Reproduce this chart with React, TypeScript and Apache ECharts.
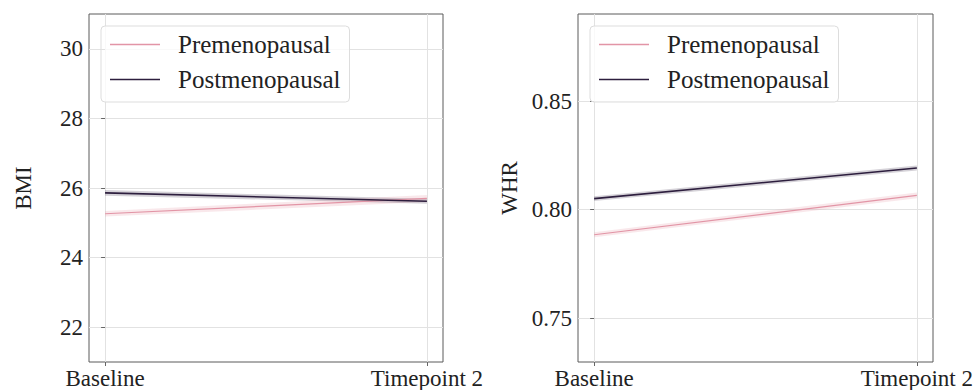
import React, { useEffect, useRef } from "react";
import * as echarts from "echarts";

const categories = ["Baseline", "Timepoint 2"];
const xPositions = [0, 1];

const bmiTicks = [22, 24, 26, 28, 30];
const whrTicks = [0.75, 0.8, 0.85];

const bmiPre = [25.26, 25.7];
const bmiPreLo = [25.18, 25.6];
const bmiPreHi = [25.34, 25.8];
const bmiPost = [25.86, 25.62];
const bmiPostLo = [25.78, 25.55];
const bmiPostHi = [25.94, 25.69];

const whrPre = [0.7885, 0.8066];
const whrPreLo = [0.7873, 0.8053];
const whrPreHi = [0.7897, 0.8079];
const whrPost = [0.8051, 0.8192];
const whrPostLo = [0.804, 0.8181];
const whrPostHi = [0.8062, 0.8203];

const PRE = "#e295a6";
const POST = "#2d1e3e";
const FONT = "Liberation Serif";

function pts(vals: number[]) {
  return vals.map((v, i) => [xPositions[i], v]);
}

function bandSeries(idx: number, key: string, lo: number[], hi: number[], color: string) {
  const data = xPositions.map((x, i) => [x, lo[i], hi[i]]);
  return {
    name: key + "-band",
    type: "custom",
    xAxisIndex: idx,
    yAxisIndex: idx,
    data,
    silent: true,
    z: 2,
    encode: { x: 0, y: [1, 2] },
    renderItem: (params: any, api: any) => {
      if (params.dataIndex !== 0) return null;
      const upper = data.map((d) => api.coord([d[0], d[2]]));
      const lower = data.map((d) => api.coord([d[0], d[1]])).reverse();
      return {
        type: "polygon",
        shape: { points: upper.concat(lower) },
        style: { fill: color, stroke: "none" },
      };
    },
  };
}

function lineSeries(idx: number, name: string, vals: number[], color: string, width: number) {
  return {
    name,
    type: "line",
    xAxisIndex: idx,
    yAxisIndex: idx,
    data: pts(vals),
    symbol: "none",
    lineStyle: { color, width },
    itemStyle: { color },
    z: 5,
  };
}

export default function App() {
  const ref = useRef<HTMLDivElement>(null);
  useEffect(() => {
    if (!ref.current) return;
    const chart = echarts.init(ref.current, undefined, { renderer: "svg" });
    const xAxisBase = (gridIndex: number) => ({
      type: "value",
      gridIndex,
      min: -0.05,
      max: 1.05,
      axisLine: { show: false },
      axisTick: { show: true, length: 4, lineStyle: { color: "#666" }, customValues: xPositions },
      axisLabel: {
        customValues: xPositions,
        formatter: (v: number) => categories[xPositions.indexOf(Math.round(v))] ?? "",
        fontFamily: FONT,
        fontSize: 23,
        color: "#222",
        margin: 5,
      },
      splitLine: { show: true, lineStyle: { color: "#e2e2e2", width: 1 } },
    });
    const yAxisBase = (gridIndex: number, min: number, max: number, ticks: number[], name: string, dec: number, gap: number) => ({
      type: "value",
      gridIndex,
      min,
      max,
      name,
      nameLocation: "middle",
      nameGap: gap,
      nameTextStyle: { fontFamily: FONT, fontSize: 23, color: "#222" },
      axisLine: { show: false },
      axisTick: { show: true, length: 4, lineStyle: { color: "#666" }, customValues: ticks },
      axisLabel: {
        customValues: ticks,
        formatter: (v: number) => v.toFixed(dec),
        fontFamily: FONT,
        fontSize: 23,
        color: "#222",
        margin: 6,
      },
      splitLine: { show: true, lineStyle: { color: "#e2e2e2", width: 1 } },
    });
    const legendBase = (left: number) => ({
      left,
      top: 26,
      orient: "vertical",
      data: ["Premenopausal", "Postmenopausal"],
      icon: "rect",
      itemWidth: 50,
      itemHeight: 1.5,
      itemGap: 10,
      padding: [6, 9, 10, 9],
      backgroundColor: "rgba(255,255,255,0.8)",
      borderColor: "#dddddd",
      borderWidth: 1,
      borderRadius: 4,
      textStyle: { fontFamily: FONT, fontSize: 25, color: "#222", padding: [0, 0, 0, 13] },
      selectedMode: false,
    });
    chart.setOption({
      animation: false,
      backgroundColor: "#ffffff",
      grid: [
        { left: 89, top: 14, width: 354, height: 353, show: true, borderColor: "#5a5a5a", borderWidth: 1, backgroundColor: "transparent" },
        { left: 578, top: 14, width: 355, height: 353, show: true, borderColor: "#5a5a5a", borderWidth: 1, backgroundColor: "transparent" },
      ],
      xAxis: [xAxisBase(0), xAxisBase(1)],
      yAxis: [
        yAxisBase(0, 21, 31, bmiTicks, "BMI", 0, 54),
        yAxisBase(1, 0.73, 0.89, whrTicks, "WHR", 2, 57),
      ],
      legend: [legendBase(101), legendBase(590)],
      series: [
        bandSeries(0, "bmiPre", bmiPreLo, bmiPreHi, "rgba(226,149,166,0.22)"),
        bandSeries(0, "bmiPost", bmiPostLo, bmiPostHi, "rgba(45,30,62,0.2)"),
        lineSeries(0, "Premenopausal", bmiPre, PRE, 1.2),
        lineSeries(0, "Postmenopausal", bmiPost, POST, 1.6),
        bandSeries(1, "whrPre", whrPreLo, whrPreHi, "rgba(226,149,166,0.22)"),
        bandSeries(1, "whrPost", whrPostLo, whrPostHi, "rgba(45,30,62,0.2)"),
        lineSeries(1, "Premenopausal", whrPre, PRE, 1.2),
        lineSeries(1, "Postmenopausal", whrPost, POST, 1.6),
      ],
    });
    return () => chart.dispose();
  }, []);
  return (
    <div
      ref={ref}
      style={{ position: "absolute", left: 0, top: 0, width: 978, height: 390 }}
    />
  );
}
